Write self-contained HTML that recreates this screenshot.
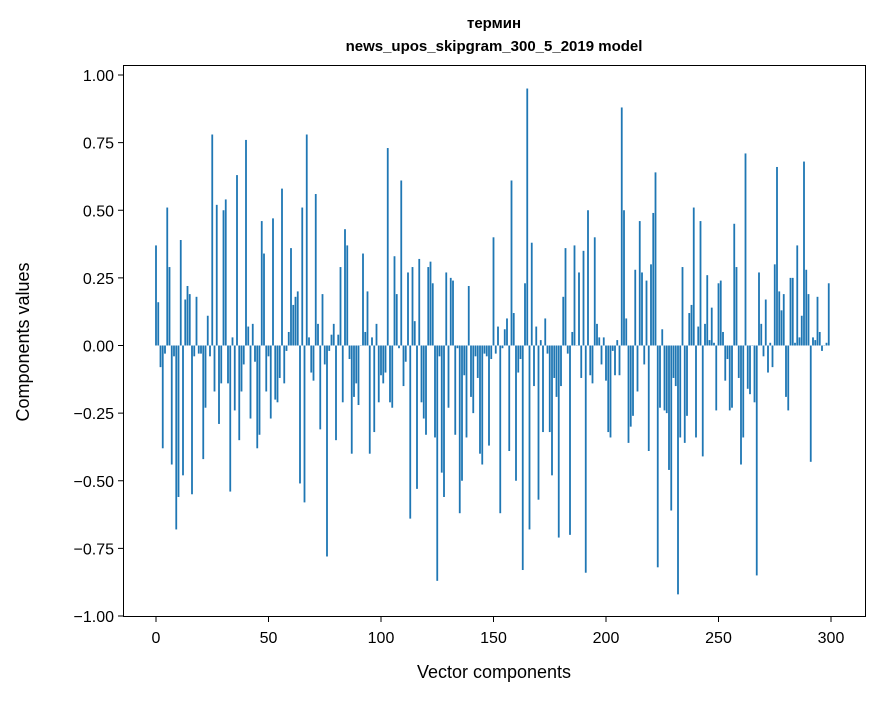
<!DOCTYPE html>
<html><head><meta charset="utf-8"><style>
body{margin:0;background:#fff;}
svg text{font-family:"Liberation Sans","DejaVu Sans",sans-serif;fill:#000;}
</style></head><body>
<svg id="chart" width="880" height="696" xmlns="http://www.w3.org/2000/svg">
<rect width="880" height="696" fill="#fff"/>
<text x="494" y="28" text-anchor="middle" font-size="15" font-weight="bold">термин</text>
<text x="494" y="51" text-anchor="middle" font-size="15" font-weight="bold">news_upos_skipgram_300_5_2019 model</text>
<g id="bars"></g>
<g id="axes"></g>
<rect x="123.5" y="65.5" width="742" height="551" fill="none" stroke="#000" stroke-width="1"/>
<text x="494" y="678" text-anchor="middle" font-size="18">Vector components</text>
<text transform="translate(29,342) rotate(-90)" text-anchor="middle" font-size="18">Components values</text>
</svg>
<script>
const values = [0.37,0.16,-0.08,-0.38,-0.03,0.51,0.29,-0.44,-0.04,-0.68,-0.56,0.39,-0.48,0.17,0.22,0.19,-0.55,-0.04,0.18,-0.03,-0.03,-0.42,-0.23,0.11,-0.04,0.78,-0.17,0.52,-0.29,-0.14,0.50,0.54,-0.14,-0.54,0.03,-0.24,0.63,-0.35,-0.17,-0.07,0.76,0.07,-0.27,0.08,-0.06,-0.38,-0.33,0.46,0.34,-0.17,-0.04,
-0.27,0.47,-0.20,-0.21,-0.12,0.58,-0.14,-0.02,0.05,0.36,0.15,0.18,0.20,-0.51,0.51,-0.58,0.78,0.03,-0.10,-0.13,0.56,0.08,-0.31,0.19,-0.07,-0.78,-0.02,0.04,0.08,-0.35,0.04,0.29,-0.21,0.43,0.37,-0.05,-0.40,-0.19,-0.14,-0.22,0,0.34,0.05,0.20,-0.40,0.03,-0.32,0.08,-0.21,-0.11,
-0.14,-0.10,0.73,-0.21,-0.23,0.33,0.19,-0.01,0.61,-0.15,-0.06,0.27,-0.64,0.29,0.09,-0.53,0.32,-0.21,-0.27,-0.33,0.29,0.31,0.23,-0.34,-0.87,-0.04,-0.47,-0.56,0.27,-0.23,0.25,0.24,-0.33,-0.01,-0.62,-0.50,-0.11,-0.34,0.22,-0.19,-0.25,-0.04,-0.12,-0.40,-0.44,-0.03,-0.04,
-0.37,-0.05,0.40,-0.03,0.07,-0.62,-0.01,0.06,0.10,-0.39,0.61,0.12,-0.50,-0.10,-0.05,-0.83,0.23,0.95,-0.68,0.38,-0.15,0.07,-0.57,0.02,-0.32,0.10,-0.03,-0.32,-0.48,-0.12,-0.19,-0.71,-0.15,0.18,0.36,-0.03,-0.70,0.05,0.37,0,0.27,-0.12,0.35,-0.84,0.50,-0.11,-0.14,0.40,0.08,0.03,-0.07,0.03,-0.13,
-0.32,-0.34,-0.02,-0.11,0.02,-0.11,0.88,0.50,0.10,-0.36,-0.30,-0.26,0.28,-0.17,0.46,0.27,-0.07,0.24,-0.39,0.30,0.49,0.64,-0.82,-0.23,0.06,-0.24,-0.25,-0.46,-0.61,-0.12,-0.15,-0.92,-0.34,0.29,-0.36,-0.26,0.12,0.15,0.51,-0.34,0.07,0.46,-0.41,0.08,0.26,0.02,0.14,0.01,-0.24,0.23,
0.24,0.05,-0.13,-0.05,-0.24,-0.23,0.45,0.29,-0.12,-0.44,-0.34,0.71,-0.16,-0.18,0.00,-0.21,-0.85,0.27,0.08,-0.04,0.17,-0.10,0.01,-0.08,0.30,0.66,0.20,0.13,0.19,-0.19,-0.24,0.25,0.25,0.01,0.37,0.03,0.11,0.68,0.28,0.19,-0.43,0.03,0.02,0.18,0.05,-0.02,0,0.01,0.23];
const xTicks = [0,50,100,150,200,250,300];
const yTicks = [-1,-0.75,-0.5,-0.25,0,0.25,0.5,0.75,1];
const yTickLabels = ["−1.00","−0.75","−0.50","−0.25","0.00","0.25","0.50","0.75","1.00"];

const NS = "http://www.w3.org/2000/svg";
const xs = v => 156 + 2.25 * v;
const ys = v => 345.5 - 270.5 * v;
const barsG = document.getElementById('bars');
values.forEach((v, i) => {
  const r = document.createElementNS(NS, 'rect');
  
  
  r.setAttribute('x', xs(i) - 0.9);
  r.setAttribute('width', 1.8);
  r.setAttribute('y', Math.min(ys(v), ys(0)));
  r.setAttribute('height', Math.max(Math.abs(ys(v) - ys(0)), 0.3));
  r.setAttribute('fill', '#1f77b4');
  barsG.appendChild(r);
});
const axG = document.getElementById('axes');
xTicks.forEach(t => {
  const l = document.createElementNS(NS, 'line');
  
  
  l.setAttribute('x1', xs(t)); l.setAttribute('x2', xs(t));
  l.setAttribute('y1', 617); l.setAttribute('y2', 622);
  l.setAttribute('stroke', '#000');
  axG.appendChild(l);
  const tx = document.createElementNS(NS, 'text');
  
  
  tx.setAttribute('x', xs(t)); tx.setAttribute('y', 643);
  tx.setAttribute('text-anchor', 'middle');
  tx.setAttribute('font-size', '16');
  tx.textContent = t;
  axG.appendChild(tx);
});
yTicks.forEach((t, i) => {
  const l = document.createElementNS(NS, 'line');
  
  
  l.setAttribute('x1', 118); l.setAttribute('x2', 123);
  l.setAttribute('y1', ys(t)); l.setAttribute('y2', ys(t));
  l.setAttribute('stroke', '#000');
  axG.appendChild(l);
  const tx = document.createElementNS(NS, 'text');
  
  
  tx.setAttribute('x', 114); tx.setAttribute('y', ys(t) + 6);
  tx.setAttribute('text-anchor', 'end');
  tx.setAttribute('font-size', '16');
  tx.textContent = yTickLabels[i];
  axG.appendChild(tx);
});
</script>
</body></html>
